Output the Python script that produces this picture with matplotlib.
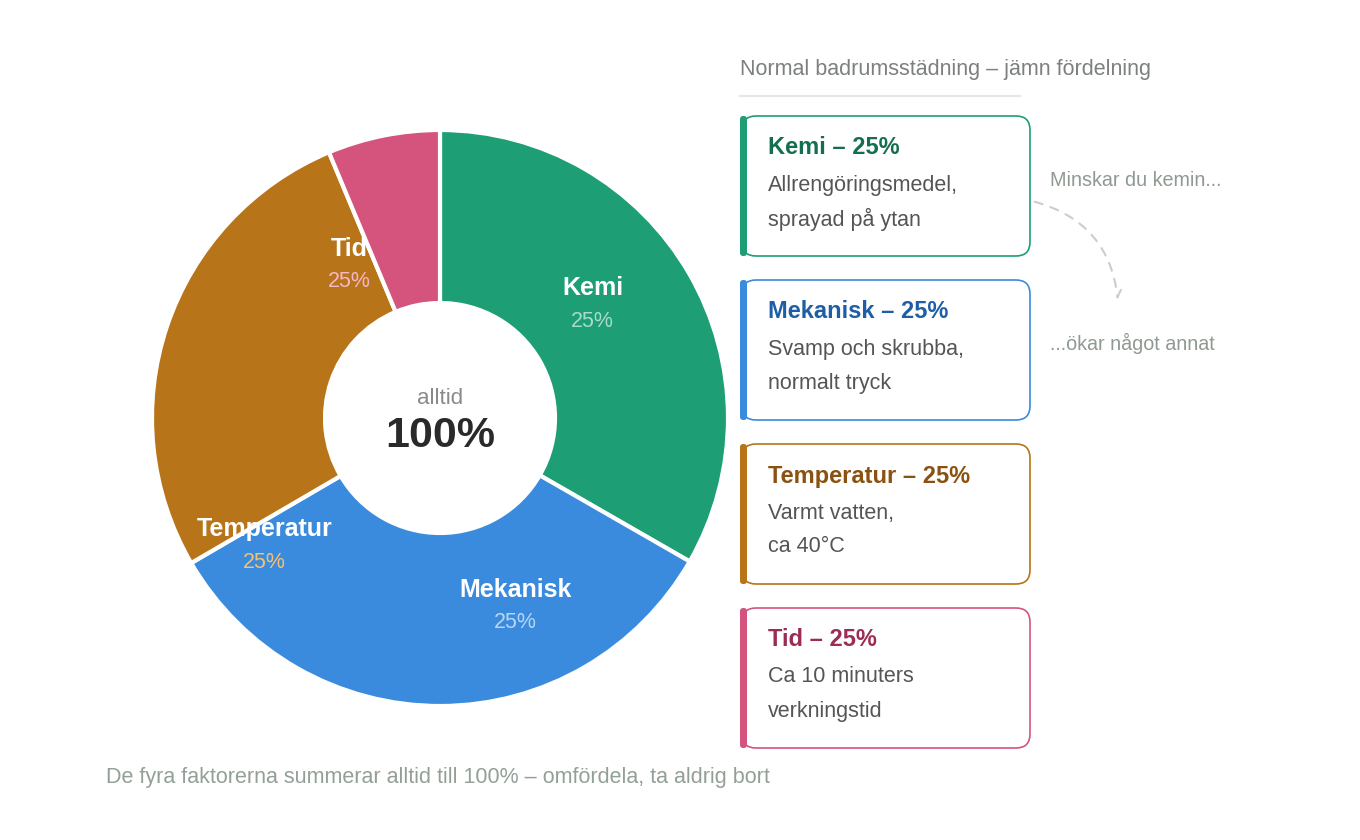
import numpy as np
import matplotlib.pyplot as plt
from matplotlib.patches import FancyBboxPatch, FancyArrowPatch

plt.rcParams['font.family'] = ['Liberation Sans', 'DejaVu Sans']

# data
factors = ['Kemi', 'Mekanisk', 'Temperatur', 'Tid']
shares = [33.3, 33.3, 27.1, 6.3]          # drawn arc sizes
label_pct = ['25%', '25%', '25%', '25%']  # printed values
colors = ['#1e9e75', '#3a8bdd', '#b87418', '#d4547e']
pct_colors = ['#a8dcc8', '#b8d6f4', '#f2c274', '#f4b6c9']
title_colors = ['#146e52', '#1d5fa6', '#8a5210', '#9b2c56']
card_lines = [
    ['Allrengöringsmedel,', 'sprayad på ytan'],
    ['Svamp och skrubba,', 'normalt tryck'],
    ['Varmt vatten,', 'ca 40°C'],
    ['Ca 10 minuters', 'verkningstid'],
]
# label positions inside the ring (angle in degrees, radius as fraction of R)
label_angle = [40.8, -66.1, -148.1, 117.8]
label_r = [0.70, 0.645, 0.718, 0.673]

fig = plt.figure(figsize=(13.6, 8.4), dpi=100)

# donut
R = 288.0
S = 300.0
cx, cy = 440, 418
ax = fig.add_axes([(cx - S) / 1360, (840 - cy - S) / 840, 2 * S / 1360, 2 * S / 840])
ax.pie(shares, colors=colors, startangle=90, counterclock=False, radius=1.0,
       wedgeprops=dict(width=(288 - 115) / 288, edgecolor='white', linewidth=3))
ax.set_xlim(-S / R, S / R)
ax.set_ylim(-S / R, S / R)
ax.set_aspect('equal')
ax.axis('off')

for name, pct, pc, a, r in zip(factors, label_pct, pct_colors, label_angle, label_r):
    x = r * np.cos(np.radians(a))
    y = r * np.sin(np.radians(a))
    ax.text(x, y - 2 / R, name, ha='center', va='center', fontsize=18, fontweight='bold', color='white')
    ax.text(x, y - 35 / R, pct, ha='center', va='center', fontsize=15.5, color=pc)

ax.text(0, 19 / R, 'alltid', ha='center', va='center', fontsize=16, color='#8a8a8a')
ax.text(0, -18 / R, '100%', ha='center', va='center', fontsize=31, fontweight='bold', color='#2a2a2a')

# overlay in pixel coordinates
ov = fig.add_axes([0, 0, 1, 1])
ov.set_xlim(0, 1360)
ov.set_ylim(840, 0)
ov.axis('off')
ov.patch.set_visible(False)

ov.text(740, 69, 'Normal badrumsstädning – jämn fördelning', ha='left', va='center',
        fontsize=15.5, color='#7c807e')
ov.plot([740, 1020], [96, 96], color='#e6e6e6', lw=1.5)

card_top = [116, 280, 444, 608]
for top, name, pct, col, tcol, lines in zip(card_top, factors, label_pct, colors, title_colors, card_lines):
    box = FancyBboxPatch((742, top), 288, 140, boxstyle='round,pad=0,rounding_size=14',
                         facecolor='white', edgecolor=col, linewidth=1.2)
    ov.add_patch(box)
    bar = FancyBboxPatch((740, top), 7, 140, boxstyle='round,pad=0,rounding_size=3',
                         facecolor=col, edgecolor='none')
    ov.add_patch(bar)
    ov.text(768, top + 32, f'{name} – {pct}', ha='left', va='center', fontsize=17,
            fontweight='bold', color=tcol)
    ov.text(768, top + 69, lines[0], ha='left', va='center', fontsize=15.5, color='#555555')
    ov.text(768, top + 103, lines[1], ha='left', va='center', fontsize=15.5, color='#555555')

ov.text(1050, 180, 'Minskar du kemin...', ha='left', va='center', fontsize=14.2, color='#8f9a92')
ov.text(1050, 343, '...ökar något annat', ha='left', va='center', fontsize=14.2, color='#8f9a92')
arrow = FancyArrowPatch((1032, 201), (1118, 302), connectionstyle='arc3,rad=-0.35',
                        arrowstyle='->,head_length=5,head_width=3', color='#cccccc',
                        lw=1.5, linestyle=(0, (4, 4)))
ov.add_patch(arrow)

ov.text(106, 777, 'De fyra faktorerna summerar alltid till 100% – omfördela, ta aldrig bort',
        ha='left', va='center', fontsize=15.5, color='#93a097')

fig.savefig('out.png', dpi=100, facecolor='white')
